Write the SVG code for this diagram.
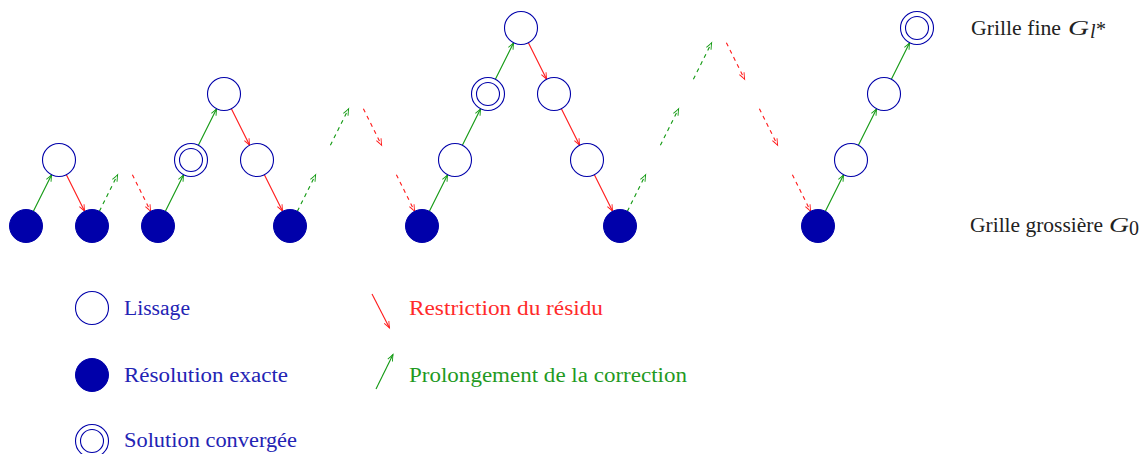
<svg xmlns="http://www.w3.org/2000/svg" width="1142" height="454" viewBox="0 0 1142 454">
<style>
.n{fill:#fff;stroke:#0000aa;stroke-width:1.1}
.s{fill:#0000aa;stroke:#0000aa;stroke-width:1}
.up{stroke:#119911;stroke-width:1.1;fill:none;marker-end:url(#ag)}
.dn{stroke:#ff1a1a;stroke-width:1.1;fill:none;marker-end:url(#ar)}
.d{stroke-dasharray:4 4}
text{font-family:"Liberation Serif","Times New Roman",serif;font-size:20px}
.tb{fill:#2323b4}
.tr{fill:#ff2a2a}
.tg{fill:#1f9a1f}
.tk{fill:#222}
</style>
<defs>
<marker id="ag" markerUnits="userSpaceOnUse" viewBox="-8 -4 9 8" refX="0" refY="0" markerWidth="9" markerHeight="8" orient="auto" overflow="visible">
<path d="M-6.5,-2.6 Q-2.5,-0.9 0,0 Q-2.5,0.9 -6.5,2.6 M-4.2,-1.6 L0,0 L-4.2,1.6" fill="none" stroke="#119911" stroke-width="0.9" stroke-dasharray="none"/>
</marker>
<marker id="ar" markerUnits="userSpaceOnUse" viewBox="-8 -4 9 8" refX="0" refY="0" markerWidth="9" markerHeight="8" orient="auto" overflow="visible">
<path d="M-6.5,-2.6 Q-2.5,-0.9 0,0 Q-2.5,0.9 -6.5,2.6 M-4.2,-1.6 L0,0 L-4.2,1.6" fill="none" stroke="#ff1a1a" stroke-width="0.9" stroke-dasharray="none"/>
</marker>
</defs>
<g id="connectors">
<path class="up" d="M33.38,211.24L51.62,174.76"/>
<path class="dn" d="M66.38,174.76L84.62,211.24"/>
<path class="up d" d="M99.38,211.24L117.62,174.76"/>
<path class="dn d" d="M132.38,174.76L150.62,211.24"/>
<path class="up" d="M165.38,211.24L183.62,174.76"/>
<path class="up" d="M198.38,145.24L216.62,108.76"/>
<path class="dn" d="M231.38,108.76L249.62,145.24"/>
<path class="dn" d="M264.38,174.76L282.62,211.24"/>
<path class="up d" d="M297.38,211.24L315.62,174.76"/>
<path class="up d" d="M330.38,145.24L348.62,108.76"/>
<path class="dn d" d="M363.38,108.76L381.62,145.24"/>
<path class="dn d" d="M396.38,174.76L414.62,211.24"/>
<path class="up" d="M429.38,211.24L447.62,174.76"/>
<path class="up" d="M462.38,145.24L480.62,108.76"/>
<path class="up" d="M495.38,79.24L513.62,42.76"/>
<path class="dn" d="M528.38,42.76L546.62,79.24"/>
<path class="dn" d="M561.38,108.76L579.62,145.24"/>
<path class="dn" d="M594.38,174.76L612.62,211.24"/>
<path class="up d" d="M627.38,211.24L645.62,174.76"/>
<path class="up d" d="M660.38,145.24L678.62,108.76"/>
<path class="up d" d="M693.38,79.24L711.62,42.76"/>
<path class="dn d" d="M726.38,42.76L744.62,79.24"/>
<path class="dn d" d="M759.38,108.76L777.62,145.24"/>
<path class="dn d" d="M792.38,174.76L810.62,211.24"/>
<path class="up" d="M825.38,211.24L843.62,174.76"/>
<path class="up" d="M858.38,145.24L876.62,108.76"/>
<path class="up" d="M891.38,79.24L909.62,42.76"/>
<path class="dn" d="M372,294L389.5,328"/>
<path class="up" d="M376,389L393,354.5"/>
</g>
<g id="n0"><circle class="s" cx="26" cy="226" r="16.5"/></g>
<g id="n1"><circle class="n" cx="59" cy="160" r="16.5"/></g>
<g id="n2"><circle class="s" cx="92" cy="226" r="16.5"/></g>
<g id="n4"><circle class="s" cx="158" cy="226" r="16.5"/></g>
<g id="n5"><circle class="n" cx="191" cy="160" r="16.5"/><circle class="n" cx="191" cy="160" r="11.5"/></g>
<g id="n6"><circle class="n" cx="224" cy="94" r="16.5"/></g>
<g id="n7"><circle class="n" cx="257" cy="160" r="16.5"/></g>
<g id="n8"><circle class="s" cx="290" cy="226" r="16.5"/></g>
<g id="n12"><circle class="s" cx="422" cy="226" r="16.5"/></g>
<g id="n13"><circle class="n" cx="455" cy="160" r="16.5"/></g>
<g id="n14"><circle class="n" cx="488" cy="94" r="16.5"/><circle class="n" cx="488" cy="94" r="11.5"/></g>
<g id="n15"><circle class="n" cx="521" cy="28" r="16.5"/></g>
<g id="n16"><circle class="n" cx="554" cy="94" r="16.5"/></g>
<g id="n17"><circle class="n" cx="587" cy="160" r="16.5"/></g>
<g id="n18"><circle class="s" cx="620" cy="226" r="16.5"/></g>
<g id="n24"><circle class="s" cx="818" cy="226" r="16.5"/></g>
<g id="n25"><circle class="n" cx="851" cy="160" r="16.5"/></g>
<g id="n26"><circle class="n" cx="884" cy="94" r="16.5"/></g>
<g id="n27"><circle class="n" cx="917" cy="28" r="16.5"/><circle class="n" cx="917" cy="28" r="11.5"/></g>
<g id="label-fine"><text class="tk" x="971" y="35" textLength="90" lengthAdjust="spacingAndGlyphs">Grille fine</text><text class="tk" x="1068" y="35" font-style="italic" textLength="21" lengthAdjust="spacingAndGlyphs">G</text><text class="tk" x="1090" y="38" font-size="14" font-style="italic">l</text><text class="tk" x="1096" y="36" font-size="10">*</text></g>
<g id="label-coarse"><text class="tk" x="970" y="232" textLength="133" lengthAdjust="spacingAndGlyphs">Grille grossière</text><text class="tk" x="1109" y="232" font-style="italic" textLength="20" lengthAdjust="spacingAndGlyphs">G</text><text class="tk" x="1129" y="235" font-size="14">0</text></g>
<g id="legend-lissage"><circle class="n" cx="92" cy="308" r="16.5"/><text class="tb" x="124" y="315" textLength="66" lengthAdjust="spacingAndGlyphs">Lissage</text></g>
<g id="legend-exacte"><circle class="s" cx="92" cy="375" r="16.5"/><text class="tb" x="124" y="382" textLength="164" lengthAdjust="spacingAndGlyphs">Résolution exacte</text></g>
<g id="legend-converge"><circle class="n" cx="92" cy="441" r="16.5"/><circle class="n" cx="92" cy="441" r="11.5"/><text class="tb" x="124" y="447" textLength="173" lengthAdjust="spacingAndGlyphs">Solution convergée</text></g>
<g id="legend-restriction"><text class="tr" x="409" y="315" textLength="194" lengthAdjust="spacingAndGlyphs">Restriction du résidu</text></g>
<g id="legend-prolongement"><text class="tg" x="409" y="382" textLength="278" lengthAdjust="spacingAndGlyphs">Prolongement de la correction</text></g>
</svg>
